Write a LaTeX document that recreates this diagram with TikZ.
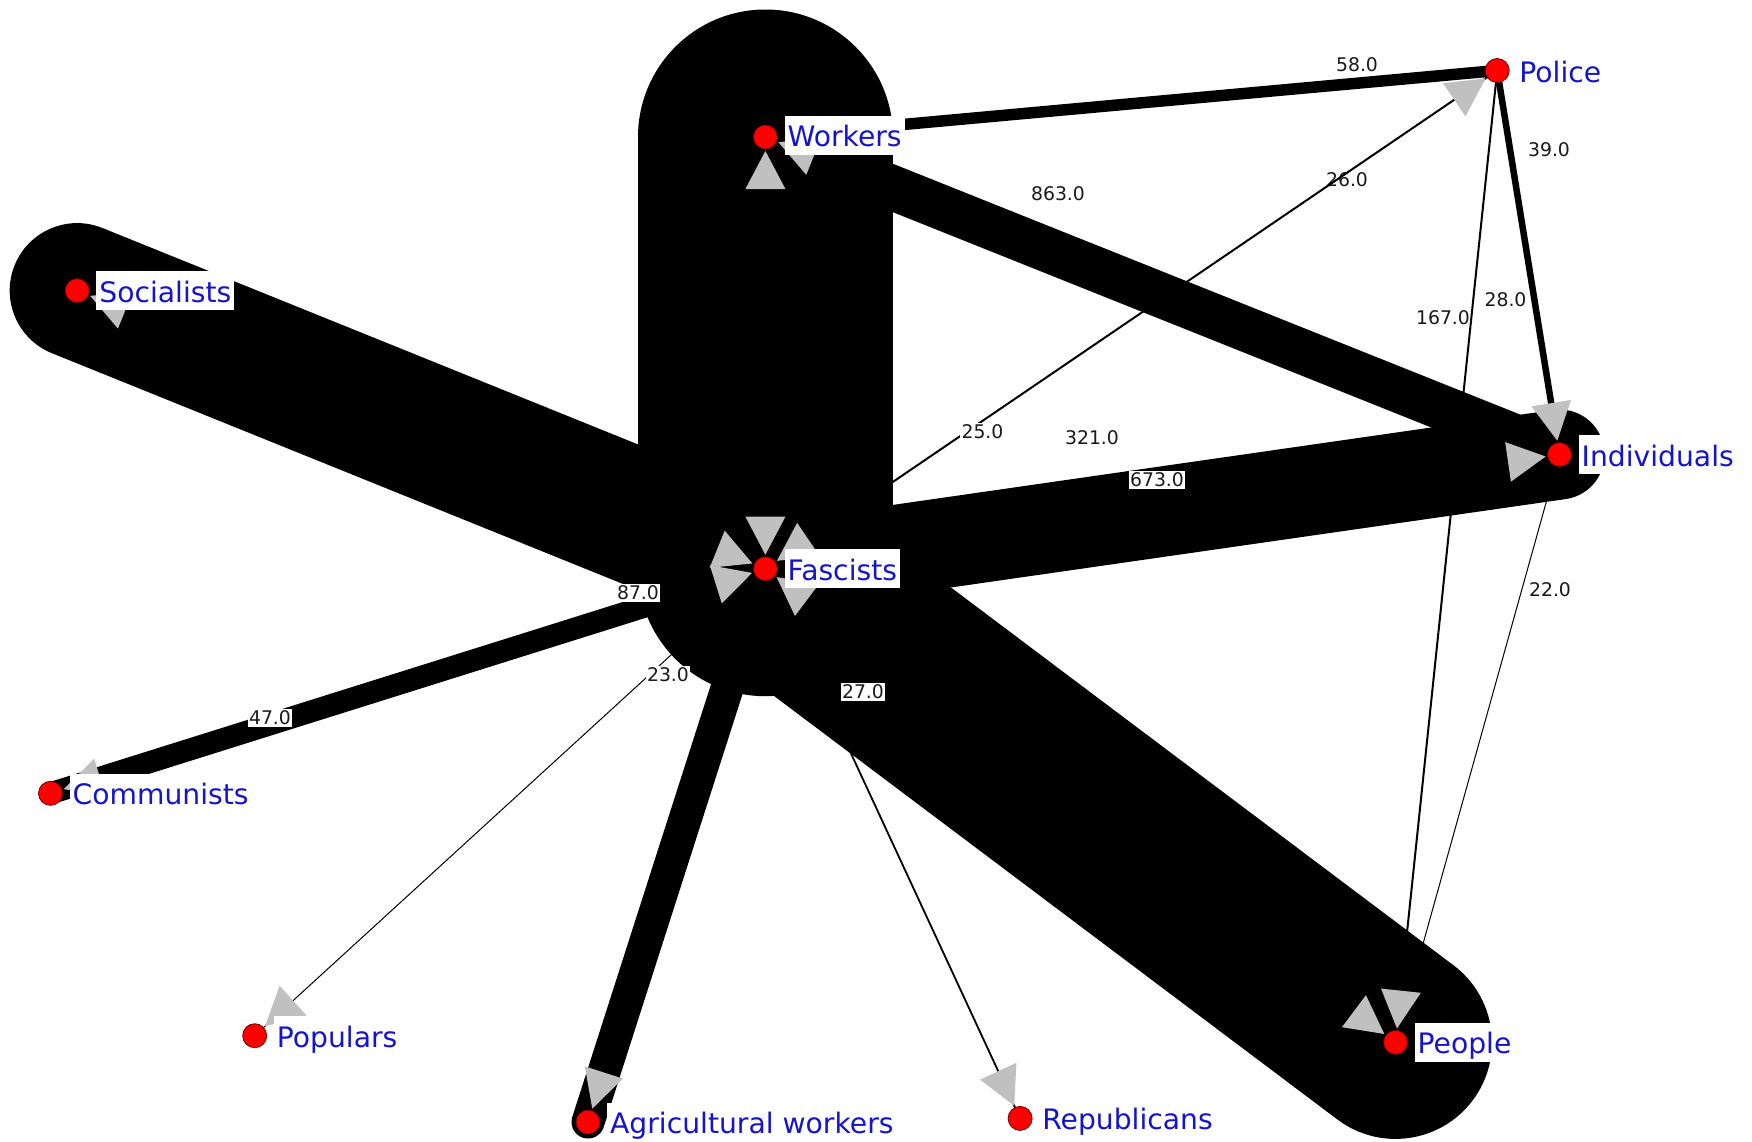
\documentclass[tikz,border=0pt]{standalone}
\usepackage{fontspec}
\setmainfont{DejaVu Sans}
\usetikzlibrary{calc}
\definecolor{arrowgray}{RGB}{192,192,192}
\definecolor{labblue}{RGB}{20,20,205}
\definecolor{dotred}{RGB}{255,0,0}
\definecolor{dotedge}{RGB}{110,0,0}
\definecolor{elabtext}{RGB}{25,25,25}
\newcommand{\arrowtri}[2]{\fill[arrowgray] ($(#1)!14pt!(#2)$) -- ($(#1)!52pt!(#2)!20pt!90:(#1)$) -- ($(#1)!52pt!(#2)!20pt!-90:(#1)$) -- cycle;}
\tikzset{
  band/.style={draw=black, line cap=round},
  thin/.style={draw=black, line cap=butt},
  dot/.style={circle, fill=dotred, draw=dotedge, line width=0.8pt, minimum size=24pt, inner sep=0pt},
  nlab/.style={anchor=west, fill=white, text=labblue, font=\fontsize{28.2pt}{31pt}\selectfont, inner xsep=3pt, inner ysep=6pt, text height=25pt, text depth=2pt},
  elab/.style={fill=white, text=elabtext, font=\fontsize{18.8pt}{21pt}\selectfont, inner xsep=1.5pt, inner ysep=2pt, text height=13.5pt, text depth=0.5pt},
  elabnobox/.style={text=elabtext, font=\fontsize{18.8pt}{21pt}\selectfont, inner xsep=1.5pt, inner ysep=2pt, text height=13.5pt, text depth=0.5pt}
}
\begin{document}
\begin{tikzpicture}[x=1pt, y=-1pt]
\fill[white] (0,0) rectangle (1752,1141);
\useasboundingbox (0,0) rectangle (1752,1141);
% node centres
\coordinate (F) at (765.4,568.7);
\coordinate (W) at (765.4,137);
\coordinate (P) at (1497.2,70.5);
\coordinate (I) at (1559.5,454.5);
\coordinate (S) at (77.2,290.6);
\coordinate (C) at (50.5,793.3);
\coordinate (Po) at (254.7,1035.7);
\coordinate (A) at (588,1122);
\coordinate (R) at (1020.1,1118.4);
\coordinate (Pe) at (1395.5,1042.4);
% thick bands
\draw[band, line width=255pt] (W) -- (F);
\draw[band, line width=135pt] (S) -- (F);
\draw[band, line width=193pt] (F) -- (Pe);
\draw[band, line width=90pt] (F) -- (I);
\draw[band, line width=45pt] (W) -- (I);
\draw[band, line width=11.5pt] (W) -- (P);
\draw[band, line width=22pt] (F) -- (C);
\draw[band, line width=33pt] (F) -- (A);
\draw[band, line width=6.5pt] (P) -- (I);
% thin lines
\draw[thin, line width=2pt] (P) -- (Pe);
\draw[thin, line width=1pt] (I) -- (Pe);
\draw[thin, line width=1pt] (F) -- (Po);
\draw[thin, line width=1.8pt] (F) -- (R);
\node[elabnobox] (l26) at (1347,180) {26.0};
\draw[thin, line width=2pt] (F) -- (P);
% arrowheads
\arrowtri{W}{F}
\arrowtri{W}{I}
\arrowtri{P}{F}
\arrowtri{I}{P}
\arrowtri{I}{F}
\arrowtri{F}{W}
\arrowtri{F}{S}
\arrowtri{F}{C}
\arrowtri{F}{P}
\arrowtri{F}{Pe}
\arrowtri{S}{F}
\arrowtri{C}{F}
\arrowtri{Po}{F}
\arrowtri{A}{F}
\arrowtri{R}{F}
\arrowtri{Pe}{F}
\arrowtri{Pe}{P}
% edge labels
\node[elabnobox] (l58) at (1357,64.5) {58.0};
\node[elabnobox] (l39) at (1549,150) {39.0};
\node[elabnobox] (l28) at (1505.5,300) {28.0};
\node[elabnobox] (l167) at (1443,318) {167.0};
\node[elabnobox] (l863) at (1058,194) {863.0};
\node[elab] (l25) at (982.5,432) {25.0};
\node[elabnobox] (l321) at (1092,438) {321.0};
\node[elab] (l673) at (1157,480) {673.0};
\node[elab] (l87) at (638,593) {87.0};
\node[elab] (l23) at (668,674.5) {23.0};
\node[elab] (l47) at (270,717.5) {47.0};
\node[elab] (l27) at (863,692) {27.0};
\node[elabnobox] (l22) at (1550,590) {22.0};
% dots
\node[dot] (Fd) at (F) {};
\node[dot] (Wd) at (W) {};
\node[dot] (Pd) at (P) {};
\node[dot] (Id) at (I) {};
\node[dot] (Sd) at (S) {};
\node[dot] (Cd) at (C) {};
\node[dot] (Pod) at (Po) {};
\node[dot] (Ad) at (A) {};
\node[dot] (Rd) at (R) {};
\node[dot] (Ped) at (Pe) {};
% node labels
\node[nlab] (Fl) at ($(F)+(19,0)$) {Fascists};
\node[nlab] (Wl) at ($(W)+(19,-2)$) {Workers};
\node[nlab] (Pl) at ($(P)+(19,0)$) {Police};
\node[nlab] (Il) at ($(I)+(19,0)$) {Individuals};
\node[nlab] (Sl) at ($(S)+(19,0)$) {Socialists};
\node[nlab] (Cl) at ($(C)+(19,0)$) {Communists};
\node[nlab] (Pol) at ($(Po)+(19,0)$) {Populars};
\node[nlab] (Al) at ($(A)+(19,0)$) {Agricultural workers};
\node[nlab] (Rl) at ($(R)+(19,0)$) {Republicans};
\node[nlab] (Pel) at ($(Pe)+(19,0)$) {People};
\end{tikzpicture}
\end{document}
